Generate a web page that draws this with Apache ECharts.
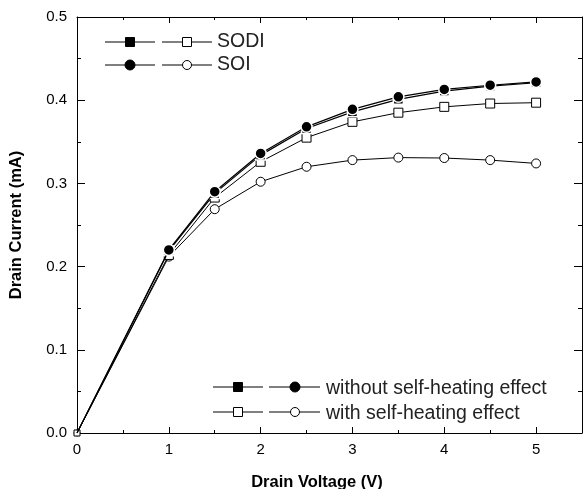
<!DOCTYPE html>
<html><head><meta charset="utf-8">
<script src="https://cdn.jsdelivr.net/npm/echarts@6/dist/echarts.min.js"></script>
<style>html,body{margin:0;padding:0;background:#fff}#c{width:585px;height:489px}</style>
</head><body><div id="c"></div>
<script>
// Drain voltage (V)
const voltage = [0, 1, 1.5, 2, 2.5, 3, 3.5, 4, 4.5, 5];
// Drain current (mA)
const sodiWithout = [0, 0.219, 0.288, 0.334, 0.366, 0.386, 0.401, 0.411, 0.417, 0.421];
const soiWithout  = [0, 0.220, 0.290, 0.336, 0.368, 0.389, 0.404, 0.413, 0.418, 0.422];
const sodiWith    = [0, 0.214, 0.283, 0.326, 0.355, 0.374, 0.385, 0.392, 0.396, 0.397];
const soiWith     = [0, 0.212, 0.269, 0.302, 0.320, 0.328, 0.331, 0.3305, 0.328, 0.324];
const xLabels = ['0', '1', '2', '3', '4', '5'];
const yLabels = ['0.0', '0.1', '0.2', '0.3', '0.4', '0.5'];

const pairs = a => voltage.map((v, i) => [v, a[i]]);
const tickFont = "'Liberation Sans Narrow','Liberation Sans',Arial,sans-serif";
const txtFont = "'Liberation Sans',Arial,sans-serif";

function mkSeries(name, data, symbol, size, filled, lw, z) {
  return {
    name, type: 'line', data: pairs(data), symbol, z,
    symbolSize: (val) => (val[0] === 0 ? (filled ? 0 : 6) : size),
    showSymbol: true, animation: false,
    lineStyle: { color: '#000', width: lw },
    itemStyle: filled ? { color: '#000', borderColor: '#fff', borderWidth: 1.5 }
                      : { color: '#fff', borderColor: '#000', borderWidth: 1 }
  };
}

const baseX = {
  type: 'value', min: 0, max: 5.5, interval: 1,
  axisLine: { show: true, onZero: false, lineStyle: { color: '#000', width: 1 } },
  axisTick: { show: true, inside: true, length: 6, lineStyle: { color: '#000' } },
  minorTick: { show: true, splitNumber: 2, length: 3, lineStyle: { color: '#000' } },
  splitLine: { show: false }
};
const baseY = {
  type: 'value', min: 0, max: 0.5, interval: 0.1,
  axisLine: { show: true, onZero: false, lineStyle: { color: '#000', width: 1 } },
  axisTick: { show: true, inside: true, length: 8, lineStyle: { color: '#000' } },
  minorTick: { show: true, splitNumber: 2, length: 4, lineStyle: { color: '#000' } },
  splitLine: { show: false }
};

// legend drawing helpers (graphic)
const g = [];
function lseg(x1, x2, y) { g.push({ type: 'line', shape: { x1, y1: y, x2, y2: y }, style: { stroke: '#000', lineWidth: 1 }, z: 10 }); }
function sq(x, y, filled, s) { g.push({ type: 'rect', shape: { x: x - s / 2, y: y - s / 2, width: s, height: s }, style: { fill: filled ? '#000' : '#fff', stroke: '#000', lineWidth: 1 }, z: 11 }); }
function ci(x, y, filled, r) { g.push({ type: 'circle', shape: { cx: x, cy: y, r }, style: { fill: filled ? '#000' : '#fff', stroke: '#000', lineWidth: 1 }, z: 11 }); }
function tx(x, y, t) { g.push({ type: 'text', x, y, style: { text: t, font: '19.5px ' + txtFont, fill: '#222', textVerticalAlign: 'middle', verticalAlign: 'middle' }, z: 11 }); }

// top-left legend
lseg(105, 155, 42); sq(130, 42, true, 9); lseg(162, 212, 42); sq(187, 42, false, 9); tx(217, 42, 'SODI');
lseg(105, 155, 65); ci(130, 65, true, 5); lseg(162, 212, 65); ci(187, 65, false, 4.5); tx(217, 65, 'SOI');
// bottom-right legend
lseg(213, 263, 387); sq(238, 387, true, 9); lseg(269, 320, 387); ci(295, 387, true, 5); tx(326, 389, 'without self-heating effect');
lseg(213, 263, 412); sq(238, 412, false, 9); lseg(269, 320, 412); ci(295, 412, false, 4.5); tx(326, 414, 'with self-heating effect');
// x axis title
g.push({ type: 'text', x: 317, y: 482, style: { text: 'Drain Voltage (V)', font: 'bold 16.5px ' + txtFont, fill: '#000', align: 'center', verticalAlign: 'middle', textAlign: 'center', textVerticalAlign: 'middle' }, z: 11 });

const chart = echarts.init(document.getElementById('c'), null, { renderer: 'canvas' });
chart.setOption({
  animation: false,
  backgroundColor: '#fff',
  grid: { left: 73, top: 17, width: 514, height: 416, containLabel: false },
  xAxis: [
    Object.assign({}, baseX, {
      position: 'bottom',
      axisLabel: {
        show: true, margin: 9, color: '#000', fontSize: 15, fontFamily: tickFont,
        formatter: v => { const i = xLabels.indexOf(String(v)); return i >= 0 ? xLabels[i] : ''; }
      }
    }),
    Object.assign({}, baseX, { position: 'top', axisLabel: { show: false } })
  ],
  yAxis: [
    Object.assign({}, baseY, {
      position: 'left',
      name: 'Drain Current (mA)', nameLocation: 'middle', nameGap: 52,
      nameTextStyle: { fontSize: 16.5, fontWeight: 'bold', fontFamily: txtFont, color: '#000' },
      axisLabel: {
        show: true, margin: 10, color: '#000', fontSize: 15, fontFamily: tickFont,
        formatter: v => yLabels[Math.round(v * 10)] || ''
      }
    }),
    Object.assign({}, baseY, { position: 'right', axisLabel: { show: false } })
  ],
  series: [
    mkSeries('SOI with', soiWith, 'circle', 9, false, 1, 2),
    mkSeries('SODI with', sodiWith, 'rect', 9, false, 1, 3),
    mkSeries('SODI without', sodiWithout, 'rect', 10, true, 1.2, 4),
    mkSeries('SOI without', soiWithout, 'circle', 11, true, 1.2, 5)
  ],
  graphic: g
});
</script></body></html>
